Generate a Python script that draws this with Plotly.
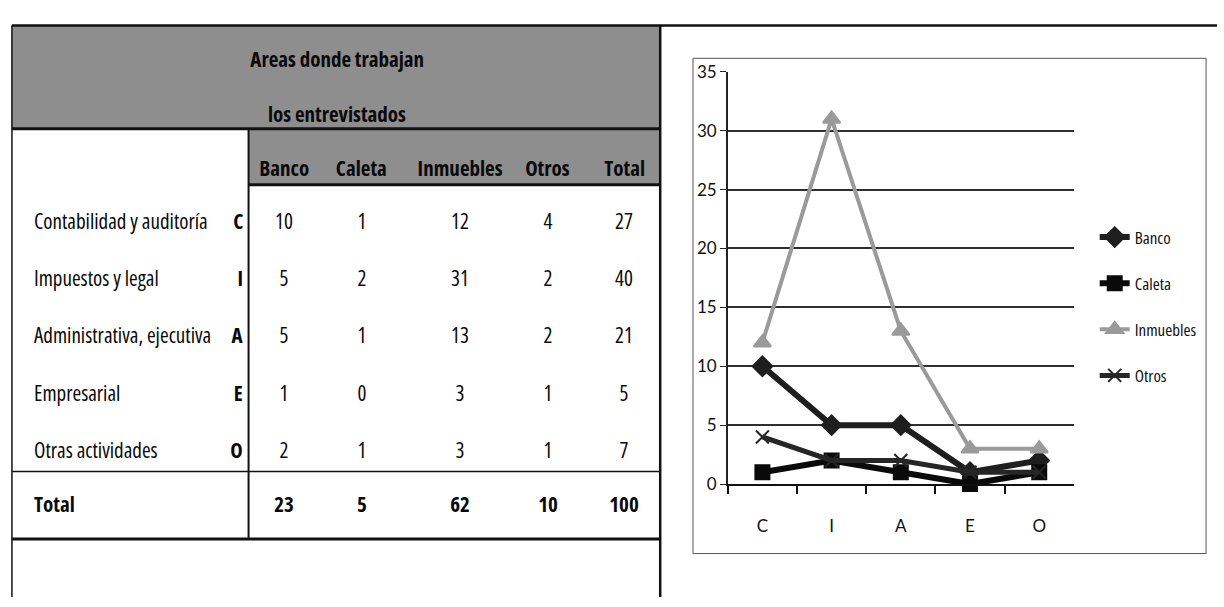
import plotly.graph_objects as go

# Survey data: work areas of the interviewees by sector
area_names = ["Contabilidad y auditoría", "Impuestos y legal", "Administrativa, ejecutiva",
              "Empresarial", "Otras actividades"]
area_codes = ["C", "I", "A", "E", "O"]
sectors = ["Banco", "Caleta", "Inmuebles", "Otros"]
banco = [10, 5, 5, 1, 2]
caleta = [1, 2, 1, 0, 1]
inmuebles = [12, 31, 13, 3, 3]
otros = [4, 2, 2, 1, 1]
title_lines = ["Areas donde trabajan", "los entrevistados"]
y_ticks = [0, 5, 10, 15, 20, 25, 30, 35]

series = [banco, caleta, inmuebles, otros]
row_totals = [sum(v) for v in zip(*series)]
col_totals = [sum(s) for s in series]
grand_total = sum(row_totals)

W, H = 1224, 607


def px(x):
    return x / W


def py(y):
    return 1 - y / H


TABLE_FONT = "Open Sans, Roboto, sans-serif"
CHART_FONT = "Lato, Carlito, Open Sans, sans-serif"
GRAY = "#8e8e8e"

fig = go.Figure()

# ---- line chart -------------------------------------------------------
styles = [
    dict(color="#1e1e1e", width=6, symbol="diamond", size=15),
    dict(color="#0a0a0a", width=6, symbol="square", size=14),
    dict(color="#9a9a9a", width=4, symbol="triangle-up", size=15),
    dict(color="#262626", width=5, symbol="x-thin-open", size=13),
]
for name, vals, st in zip(sectors, series, styles):
    fig.add_trace(go.Scatter(
        x=area_codes, y=vals, name=name, mode="lines+markers",
        legendgroup=name,
        line=dict(color=st["color"], width=st["width"]),
        marker=dict(symbol=st["symbol"], size=st["size"], color=st["color"],
                    line=dict(color=st["color"], width=2)),
        cliponaxis=False,
    ))

fig.update_xaxes(
    domain=[px(732), px(1080)], type="category", categoryorder="array",
    categoryarray=area_codes, range=[-0.5, 4.5],
    showline=True, linecolor="#111", linewidth=2,
    ticks="outside", tickson="boundaries", ticklen=8, tickwidth=1.5, tickcolor="#111",
    showgrid=False, tickfont=dict(family=CHART_FONT, size=17, color="#111"),
    ticklabelstandoff=26, fixedrange=True,
)
fig.update_yaxes(
    domain=[py(490), py(63)], range=[0, 35], tickvals=y_ticks,
    showline=True, linecolor="#222", linewidth=1.5,
    ticks="outside", ticklen=6, tickcolor="#222",
    showgrid=True, gridcolor="#2e2e2e", gridwidth=2, zeroline=False,
    tickfont=dict(family=CHART_FONT, size=17, color="#111"), fixedrange=True,
)

# ---- table drawing ----------------------------------------------------
shapes = []


def rect(x0, y0, x1, y1, fill, lw=0, lc="#111"):
    shapes.append(dict(type="rect", xref="paper", yref="paper",
                       x0=px(x0), x1=px(x1), y0=py(y1), y1=py(y0),
                       fillcolor=fill, line=dict(width=lw, color=lc), layer="below"))


def line(x0, y0, x1, y1, lw=1.5, lc="#111"):
    shapes.append(dict(type="line", xref="paper", yref="paper",
                       x0=px(x0), x1=px(x1), y0=py(y0), y1=py(y1),
                       line=dict(width=lw, color=lc)))


rect(12, 15, 664, 122, GRAY)
rect(250, 122, 664, 180, GRAY)
line(12, 15, W, 15, 2.5)
line(12, 15, 12, H, 1.5)
line(664, 15, 664, H, 2.5)
line(12, 122, 664, 122, 3)
line(250, 180, 664, 180, 3)
line(250, 122, 250, 547, 2)
line(12, 477, 664, 477, 1.5)
line(12, 547, 664, 547, 3)
# chart frame
shapes.append(dict(type="rect", xref="paper", yref="paper",
                   x0=px(697), x1=px(1213), y0=py(562), y1=py(49),
                   line=dict(width=1, color="#555"), fillcolor="rgba(0,0,0,0)"))

ann = []


def text(x, y, s, size=21, bold=False, anchor="center"):
    ann.append(dict(xref="paper", yref="paper", x=px(x), y=py(y), text=f"<b>{s}</b>" if bold else s,
                    showarrow=False, xanchor=anchor, yanchor="middle", align=anchor,
                    font=dict(family=TABLE_FONT, size=size, color="#0a0a0a")))


text(339, 50, title_lines[0], bold=True)
text(339, 107, title_lines[1], bold=True)

col_x = [286, 364, 463, 551, 628]
for cx, name in zip(col_x, sectors + ["Total"]):
    text(cx, 163, name, bold=True)

row_y = [218, 277, 336, 396, 455]
for i, ry in enumerate(row_y):
    text(32, ry, area_names[i], anchor="left")
    text(246, ry, area_codes[i], bold=True, anchor="right")
    for j, s in enumerate(series):
        text(col_x[j], ry, str(s[i]))
    text(col_x[4], ry, str(row_totals[i]))

text(32, 511, "Total", bold=True, anchor="left")
for j, t in enumerate(col_totals + [grand_total]):
    text(col_x[j], 511, str(t), bold=True)

fig.update_layout(
    width=W, height=H, margin=dict(l=0, r=0, t=0, b=0),
    paper_bgcolor="white", plot_bgcolor="white",
    shapes=shapes, annotations=ann,
    showlegend=True,
    legend=dict(x=px(1101), y=py(216), xanchor="left", yanchor="top",
                font=dict(family="Open Sans, sans-serif", size=17, color="#111"),
                tracegroupgap=21, itemwidth=30, bgcolor="rgba(0,0,0,0)"),
)

# narrow (condensed) lettering for the table text and the legend entries
condensed = (
    "var s=document.createElement('style');"
    "s.textContent='.annotation-text{font-stretch:75% !important;}"
    " .legendtext{font-stretch:80% !important;}';"
    "document.head.appendChild(s);"
)

fig.write_html("out.html", post_script=condensed)
